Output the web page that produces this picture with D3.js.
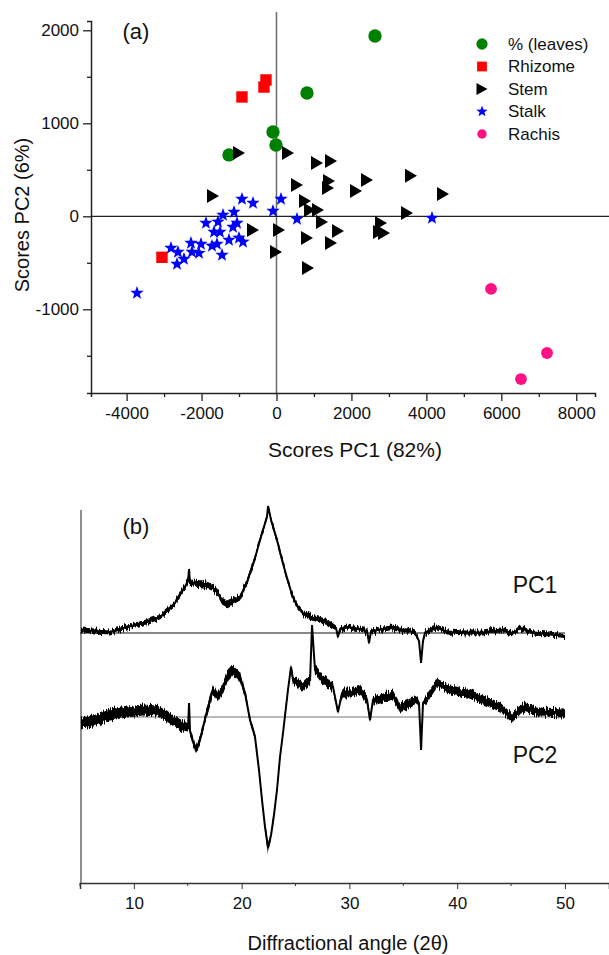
<!DOCTYPE html>
<html><head><meta charset="utf-8">
<script src="https://cdn.jsdelivr.net/npm/d3@7"></script>
<style>
html,body{margin:0;padding:0;background:#fff;}
svg{display:block;font-family:"Liberation Sans",Arial,sans-serif;}
</style></head>
<body>
<svg id="chart" width="609" height="955"></svg>
<script>
// ---------- Panel (a): PCA scores ----------
const seriesNames = ["% (leaves)", "Rhizome", "Stem", "Stalk", "Rachis"];
const leaves = [[2629,1939],[814,1326],[-93,907],[-13,767],[-1268,660]];
const rhizome = [[-280,1466],[-334,1390],[-921,1283],[-3056,-441]];
const stem = [[-1001,681],[307,681],[1081,573],[1455,595],[547,337],[1401,380],[1374,305],
  [2415,390],[2122,272],[3590,436],[4444,240],[-1695,218],[761,164],[894,67],[1108,67],
  [3483,35],[-627,-148],[67,-148],[1214,-61],[1641,-158],[2789,-72],[2736,-169],[2869,-180],
  [814,-233],[1455,-287],[-13,-384],[841,-556]];
const stalk = [[-921,186],[-627,143],[120,186],[-93,57],[547,-29],[-1134,46],[-1428,14],
  [-1882,-72],[-1561,-61],[-1054,-72],[-1161,-115],[-1668,-169],[-1508,-169],[-1268,-255],
  [-1001,-233],[-894,-276],[-2015,-298],[-2282,-287],[-1721,-319],[-1588,-298],[-2255,-384],
  [-2068,-395],[-1454,-416],[-2816,-341],[-2629,-384],[-2469,-459],[-2655,-513],[-3723,-825],
  [4150,-19]];
const rachis = [[5725,-781],[7219,-1470],[6525,-1750]];
const xTicksA = [-4000,-2000,0,2000,4000,6000,8000];
const yTicksA = [-1000,0,1000,2000];

// ---------- Panel (b): loadings (theta, value, noise half-width) ----------
const pc1 = [[5.09,3,2.5],[6.39,2,2.5],[7.78,1,2.5],[9.36,6,2.5],[10.85,10,2.5],[12.42,16,2.5],[13.63,27,2.5],
  [14.28,38,3],[14.74,46,3],[15.02,52,3],[15.12,64,1],[15.21,50,3],[15.49,50,3.5],[16.42,49,3.5],
  [17.25,46,3.5],[17.81,40,3.5],[18.18,32,3.5],[18.64,29,3.5],[19.2,32,3.5],[19.85,36,3.5],[20.5,51,3.5],
  [21.24,75,3],[21.89,100,3],[22.35,116,3],[22.45,127,1.5],[22.73,113,3],[23.28,93,3],[23.75,73,3],
  [24.21,55,3],[24.68,38,3],[25.14,27,3],[25.7,20,3],[26.35,16,3],[27.0,14,3],[27.92,11,3],
  [28.76,5,2.5],[28.94,-4,1.5],[29.13,4,2.5],[29.78,6,2.5],[30.99,4,2.5],[31.64,2,2.5],[31.82,-10,1.5],
  [32.01,2,2.5],[32.56,3,2.5],[33.77,5,2.5],[35.35,3,2.5],[36.09,0,2.5],[36.46,-8,1.5],[36.65,-30,1],
  [36.83,-8,1.5],[37.02,0,2.5],[38.13,6,2.5],[39.06,1,2.5],[40.92,0,2.5],[42.4,0,2.5],[43.98,3,2.5],
  [45.19,0,2.5],[45.84,5,2.5],[47.04,0,2.5],[48.62,-1,2.5],[50.01,-3,2]];
const pc2 = [[5.09,-6,5.5],[6.21,-4,5.5],[7.78,2,5.5],[9.36,5,5.5],[10.85,7,5.5],[12.15,6,5.5],[13.07,1,5.5],
  [13.82,-5,5.5],[14.56,-9,5.5],[15.02,-11,4.5],[15.12,14,1],[15.21,-14,4.5],[15.49,-25,4],[15.77,-33,4],
  [16.14,-23,4],[16.42,-10,4],[16.88,10,4.5],[17.34,27,4.5],[17.81,20,4.5],[18.18,27,5.5],[18.64,40,5.5],
  [19.2,47,5.5],[19.85,40,5.5],[20.31,24,4],[20.78,-3,3],[21.24,-20,3],[21.61,-53,3],[21.89,-83,3],
  [22.17,-110,3],[22.45,-131,4],[22.73,-118,3],[23.0,-98,3],[23.28,-73,3],[23.56,-40,3],
  [23.84,-16,3],[24.3,27,3],[24.58,50,2.5],[24.77,37,4.5],[25.7,30,4.5],[26.35,37,4.5],[26.53,92,1],
  [26.81,47,4.5],[27.55,37,4.5],[28.48,30,4.5],[28.94,5,2.5],[29.32,24,4.5],[30.06,24,4.5],[30.99,27,4.5],
  [31.64,17,4.5],[31.91,-3,2.5],[32.19,17,4.5],[32.56,17,4.5],[34.05,22,4.5],[34.7,9,4.5],[35.63,14,4.5],
  [36.28,17,4.5],[36.46,14,2.5],[36.65,-33,1.5],[36.83,14,2.5],[37.11,17,4.5],[38.13,34,4.5],[39.34,27,4.5],
  [40.92,24,4.5],[42.4,17,4.5],[43.98,10,4.5],[45.09,-1,4.5],[46.11,10,4.5],[47.69,5,4.5],[50.01,4,4.5]];
const xTicksB = [10,20,30,40,50];
const xMinorB = [5,15,25,35,45];
const curveNames = ["PC1","PC2"];
const curveOffsets = [84, 0];

const svg = d3.select("#chart");

// jagged texture for the noisy diffraction traces (visual style only)
const defs = svg.append("defs");
const flt = defs.append("filter").attr("id", "jitter").attr("x", "-2%").attr("y", "-10%")
  .attr("width", "104%").attr("height", "120%");
flt.append("feTurbulence").attr("type", "fractalNoise").attr("baseFrequency", "1.1 0.05")
  .attr("numOctaves", 2).attr("seed", 7).attr("result", "t");
flt.append("feColorMatrix").attr("in", "t").attr("type", "matrix")
  .attr("values", "0 0 0 0 0.5  0 1 0 0 0  0 0 0 0 0  0 0 0 0 1").attr("result", "tm");
flt.append("feDisplacementMap").attr("in", "SourceGraphic").attr("in2", "tm").attr("scale", 9)
  .attr("xChannelSelector", "R").attr("yChannelSelector", "G");

// ===== Panel (a) =====
const xA = d3.scaleLinear().domain([-4950, 8500]).range([91, 595]);
const yA = d3.scaleLinear().domain([-1900, 2100]).range([393, 21]);
const gA = svg.append("g");

// zero lines
gA.append("line").attr("x1", xA(0)).attr("x2", xA(0)).attr("y1", 12).attr("y2", yA(-1900))
  .attr("stroke", "#6a6a6a").attr("stroke-width", 1.5);
gA.append("line").attr("x1", xA(-4950)).attr("x2", 609).attr("y1", yA(0)).attr("y2", yA(0))
  .attr("stroke", "#222").attr("stroke-width", 1.3);

// axes
const xAxisA = d3.axisBottom(xA).tickValues(d3.range(-4000, 8001, 1000)).tickSize(4).tickFormat("");
const gxA = gA.append("g").attr("transform", `translate(0,${yA(-1900)})`).call(xAxisA);
gxA.selectAll(".tick line").filter(d => xTicksA.includes(d)).attr("y2", 8);
gA.append("g").attr("transform", `translate(0,${yA(-1900)})`)
  .call(d3.axisBottom(xA).tickValues(xTicksA).tickSize(0).tickPadding(14).tickFormat(d => d))
  .call(g => g.select(".domain").remove())
  .selectAll("text").attr("font-size", 17).attr("fill", "#111").attr("font-family", "Liberation Sans, Arial, sans-serif");
const yAxisA = d3.axisLeft(yA).tickValues(d3.range(-1500, 2001, 500)).tickSize(4).tickFormat("");
const gyA = gA.append("g").attr("transform", `translate(${xA(-4950)},0)`).call(yAxisA);
gyA.selectAll(".tick line").filter(d => yTicksA.includes(d)).attr("x2", -8);
gA.append("g").attr("transform", `translate(${xA(-4950)},0)`)
  .call(d3.axisLeft(yA).tickValues(yTicksA).tickSize(0).tickPadding(12).tickFormat(d => d))
  .call(g => g.select(".domain").remove())
  .selectAll("text").attr("font-size", 17).attr("fill", "#111").attr("font-family", "Liberation Sans, Arial, sans-serif");
[gxA, gyA].forEach(g => { g.select(".domain").attr("stroke", "#222").attr("stroke-width", 1.5); g.selectAll(".tick line").attr("stroke", "#222").attr("stroke-width", 1.3); });

// markers
const triPath = (w, h) => `M${-w/2},${-h/2}L${w/2},0L${-w/2},${h/2}Z`;
function starPath(R, r) {
  let p = "";
  for (let i = 0; i < 10; i++) {
    const a = -Math.PI / 2 + i * Math.PI / 5, rr = i % 2 ? r : R;
    p += (i ? "L" : "M") + (rr * Math.cos(a)).toFixed(2) + "," + (rr * Math.sin(a)).toFixed(2);
  }
  return p + "Z";
}
const styles = {
  "% (leaves)": {data: leaves, color: "#008000", path: d3.symbol(d3.symbolCircle, 140)(), lpath: d3.symbol(d3.symbolCircle, 100)()},
  "Rhizome": {data: rhizome, color: "#ff0000", path: d3.symbol(d3.symbolSquare, 130)(), lpath: d3.symbol(d3.symbolSquare, 95)()},
  "Stem": {data: stem, color: "#000000", path: triPath(12, 14), lpath: triPath(11, 12)},
  "Stalk": {data: stalk, color: "#0000ff", path: starPath(7, 2.9), lpath: starPath(6, 2.5)},
  "Rachis": {data: rachis, color: "#ff1183", path: d3.symbol(d3.symbolCircle, 110)(), lpath: d3.symbol(d3.symbolCircle, 70)()}
};
seriesNames.forEach(name => {
  const s = styles[name];
  gA.append("g").selectAll("path").data(s.data).join("path")
    .attr("d", s.path).attr("fill", s.color)
    .attr("transform", d => `translate(${xA(d[0])},${yA(d[1])})`);
});

// legend
const leg = gA.append("g").attr("transform", "translate(482,44)");
seriesNames.forEach((name, i) => {
  const s = styles[name];
  const row = leg.append("g").attr("transform", `translate(0,${i * 22.5})`);
  row.append("path").attr("d", s.lpath).attr("fill", s.color);
  row.append("text").attr("x", 26).attr("y", 0).attr("dy", "0.35em")
    .attr("font-size", 17).attr("fill", "#111").text(name);
});

gA.append("text").attr("x", 136).attr("y", 31).attr("dy", "0.35em").attr("text-anchor", "middle")
  .attr("font-size", 22).attr("fill", "#111").text("(a)");
gA.append("text").attr("x", 355).attr("y", 450).attr("dy", "0.35em").attr("text-anchor", "middle")
  .attr("font-size", 21).attr("fill", "#111").text("Scores PC1 (82%)");
gA.append("text").attr("transform", "translate(22,215) rotate(-90)").attr("dy", "0.35em")
  .attr("text-anchor", "middle").attr("font-size", 20).attr("fill", "#111").text("Scores PC2 (6%)");

// ===== Panel (b) =====
const xB = d3.scaleLinear().domain([5, 54.09]).range([80, 609]);
const yB = d3.scaleLinear().domain([-166, 207]).range([883, 510]);
const gB = svg.append("g");

gB.append("line").attr("x1", 81).attr("x2", 81).attr("y1", yB(207)).attr("y2", yB(-166))
  .attr("stroke", "#6a6a6a").attr("stroke-width", 1.5);
const gxB = gB.append("g").attr("transform", `translate(0,${yB(-166)})`)
  .call(d3.axisBottom(xB).tickValues(xTicksB).tickSize(6).tickPadding(8).tickFormat(d => d));
gxB.append("g").selectAll("line").data(xMinorB).join("line")
  .attr("x1", d => xB(d)).attr("x2", d => xB(d)).attr("y1", 0).attr("y2", 3).attr("stroke", "#333");
gxB.select(".domain").attr("stroke", "#333").attr("stroke-width", 1.5);
gxB.selectAll(".tick line").attr("stroke", "#333");
gxB.selectAll("text").attr("font-size", 17).attr("fill", "#111").attr("font-family", "Liberation Sans, Arial, sans-serif");

const curves = [pc1, pc2];
const baseColors = ["#111", "#777"];
curves.forEach((data, i) => {
  const off = curveOffsets[i];
  const th = data.map(d => d[0]);
  gB.append("line").attr("x1", 80).attr("x2", xB(d3.max(th))).attr("y1", yB(off)).attr("y2", yB(off))
    .attr("stroke", baseColors[i]).attr("stroke-width", 1.2);
  const area = d3.area().x(d => xB(d[0])).y0(d => yB(off + d[1] - d[2])).y1(d => yB(off + d[1] + d[2]));
  gB.append("path").datum(data).attr("d", area).attr("fill", "#000").attr("filter", "url(#jitter)");
  const line = d3.line().x(d => xB(d[0])).y(d => yB(off + d[1]));
  gB.append("path").datum(data).attr("d", line).attr("fill", "none").attr("stroke", "#000").attr("stroke-width", 2);
});

gB.append("text").attr("x", 535).attr("y", 585).attr("dy", "0.35em").attr("text-anchor", "middle")
  .attr("font-size", 23).attr("fill", "#111").text(curveNames[0]);
gB.append("text").attr("x", 535).attr("y", 755).attr("dy", "0.35em").attr("text-anchor", "middle")
  .attr("font-size", 23).attr("fill", "#111").text(curveNames[1]);
gB.append("text").attr("x", 136).attr("y", 526).attr("dy", "0.35em").attr("text-anchor", "middle")
  .attr("font-size", 22).attr("fill", "#111").text("(b)");
gB.append("text").attr("x", 348).attr("y", 943).attr("dy", "0.35em").attr("text-anchor", "middle")
  .attr("font-size", 20).attr("fill", "#111").text("Diffractional angle (2θ)");
</script>
</body></html>
